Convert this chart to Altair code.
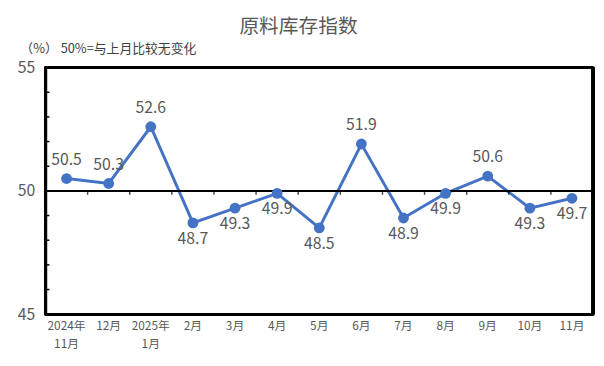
import altair as alt
import pandas as pd

categories = ["2024年\n11月", "12月", "2025年\n1月", "2月", "3月", "4月", "5月",
              "6月", "7月", "8月", "9月", "10月", "11月"]
values = [50.5, 50.3, 52.6, 48.7, 49.3, 49.9, 48.5, 51.9, 48.9, 49.9, 50.6, 49.3, 49.7]
label_side = ["above", "above", "above", "below", "below", "below", "below",
              "above", "below", "below", "above", "below", "below"]
minor_ticks = [46, 47, 48, 49, 51, 52, 53, 54]
y_labels = [45, 50, 55]
y_min, y_max = 45, 55
ref_value = 50

df = pd.DataFrame({"cat": categories, "val": values, "side": label_side})
ticks_df = pd.DataFrame({"val": minor_ticks})

FONT = "Noto Sans CJK SC"
GREY = "#595959"
BLUE = "#4472C4"
W, H = 555, 250

xscale = alt.Scale(type="band", paddingInner=0, paddingOuter=0, domain=categories)
yscale = alt.Scale(domain=[y_min, y_max], nice=False, zero=False)

X = alt.X("cat:N", sort=categories, scale=xscale)
Y = alt.Y("val:Q", scale=yscale)

base = alt.Chart(df)

edge = dict(color="black", strokeWidth=2.5)
frame_top = base.mark_rule(**edge).encode(y=alt.datum(y_max))
frame_bottom = base.mark_rule(**edge).encode(y=alt.datum(y_min))
frame_left = base.mark_rule(**edge).encode(
    x=alt.value(0), y=alt.datum(y_min), y2=alt.datum(y_max))
frame_right = base.mark_rule(**edge).encode(
    x=alt.value(W), y=alt.datum(y_min), y2=alt.datum(y_max))

line = base.mark_line(color=BLUE, strokeWidth=3).encode(
    x=alt.X("cat:N", sort=categories, scale=xscale,
            axis=alt.Axis(title=None, domain=True, domainColor="black",
                          domainWidth=2.5, ticks=False, labelAngle=0,
                          labelFontSize=12, labelColor=GREY, labelFont=FONT,
                          labelPadding=7, labelLineHeight=18, labelBaseline="top",
                          labelExpr="split(datum.label, '\\n')", grid=False)),
    y=alt.Y("val:Q", scale=yscale,
            axis=alt.Axis(values=y_labels, domain=True, domainColor="black",
                          domainWidth=2.5, ticks=False, grid=False,
                          labelFontSize=16, labelColor=GREY, labelFont=FONT,
                          labelPadding=11,
                          title="（%）  50%=与上月比较无变化", titleAngle=0,
                          titleAlign="left", titleBaseline="middle",
                          titleX=-26, titleY=-19, titleFontSize=13,
                          titleFontWeight="normal", titleColor="#404040",
                          titleFont=FONT)),
)

zero_line = base.mark_rule(color="black", strokeWidth=2).encode(
    y=alt.datum(ref_value),
)

band_ticks = base.mark_tick(orient="vertical", color="black", thickness=1.5,
                            size=4, yOffset=2).encode(
    x=alt.X("cat:N", sort=categories, scale=xscale, bandPosition=0),
    y=alt.datum(ref_value),
)

points = base.mark_circle(color=BLUE, size=120, opacity=1).encode(x=X, y=Y)

text_above = base.transform_filter(alt.datum.side == "above").mark_text(
    dy=-19, fontSize=16, color=GREY, font=FONT, baseline="middle"
).encode(x=X, y=Y, text=alt.Text("val:Q", format=".1f"))

text_below = base.transform_filter(alt.datum.side == "below").mark_text(
    dy=16, fontSize=16, color=GREY, font=FONT, baseline="middle"
).encode(x=X, y=Y, text=alt.Text("val:Q", format=".1f"))

minor = alt.Chart(ticks_df).mark_rule(color="black", strokeWidth=1.5).encode(
    y=alt.Y("val:Q", scale=yscale),
    x=alt.value(0),
    x2=alt.value(4),
)

chart = alt.layer(frame_top, frame_bottom, frame_left, frame_right,
                  line, zero_line, band_ticks, points, text_above, text_below,
                  minor).properties(
    width=W,
    height=H,
    autosize=alt.AutoSizeParams(type="none"),
    padding={"left": 38, "top": 58, "right": 3, "bottom": 40},
    title=alt.TitleParams("原料库存指数", fontSize=20, color=GREY, font=FONT,
                          fontWeight="normal", dx=-21, offset=6),
).configure_view(
    stroke="black", strokeWidth=2.5
)

chart.save("out.html", embed_options={"renderer": "svg", "actions": False})
